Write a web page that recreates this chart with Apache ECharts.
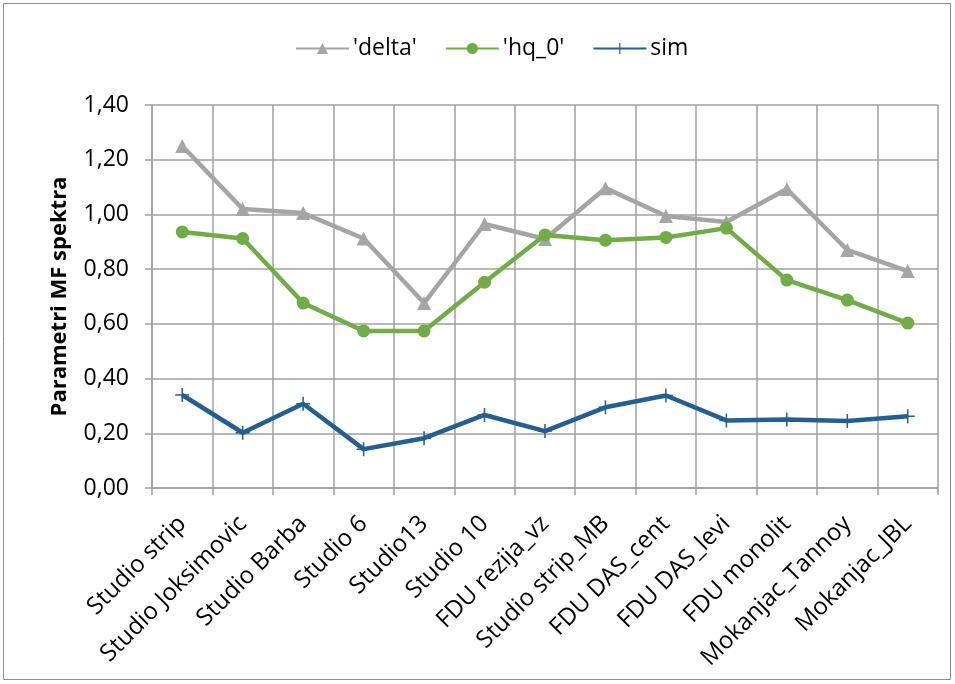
<!DOCTYPE html>
<html>
<head>
<meta charset="utf-8">
<script src="https://cdn.jsdelivr.net/npm/echarts@6/dist/echarts.min.js"></script>
<style>
html,body{margin:0;padding:0;background:#fff;}
#chart{width:955px;height:684px;}
</style>
</head>
<body>
<div id="chart"></div>
<script>
const categories = ['Studio strip','Studio Joksimovic','Studio Barba','Studio 6','Studio13','Studio 10','FDU rezija_vz','Studio strip_MB','FDU DAS_cent','FDU DAS_levi','FDU monolit','Mokanjac_Tannoy','Mokanjac_JBL'];
const deltaValues = [1.25, 1.02, 1.005, 0.912, 0.676, 0.965, 0.910, 1.096, 0.994, 0.972, 1.093, 0.870, 0.793];
const hq0Values = [0.936, 0.912, 0.676, 0.574, 0.574, 0.752, 0.925, 0.906, 0.916, 0.950, 0.760, 0.687, 0.603];
const simValues = [0.340, 0.202, 0.308, 0.142, 0.182, 0.267, 0.208, 0.295, 0.338, 0.247, 0.250, 0.245, 0.262];
const seriesNames = ["'delta'", "'hq_0'", 'sim'];
const yTicks = { min: 0, max: 1.4, interval: 0.2 };

const FONT = '"Open Sans", Lato, sans-serif';
const plusPath = 'path://M6.25,0h1.5v6.25h6.25v1.5h-6.25v6.25h-1.5v-6.25h-6.25v-1.5h6.25z';

const chart = echarts.init(document.getElementById('chart'));
chart.setOption({
  backgroundColor: '#fff',
  animation: false,
  textStyle: { fontFamily: FONT },
  graphic: [{
    type: 'rect',
    shape: { x: 3.5, y: 3.5, width: 947, height: 676 },
    style: { fill: 'none', stroke: '#8c8c8c', lineWidth: 1 }
  }],
  legend: {
    top: 32,
    left: 290,
    itemWidth: 53,
    itemHeight: 14,
    itemGap: 28,
    textStyle: { fontSize: 23, color: '#000', fontFamily: FONT, padding: [0, 0, 0, -1] },
    data: seriesNames
  },
  grid: { left: 152, right: 17, top: 105, bottom: 196, containLabel: false },
  xAxis: {
    type: 'category',
    data: categories,
    boundaryGap: true,
    axisLine: { show: true, lineStyle: { color: '#a0a0a0', width: 1.5 } },
    axisTick: { show: true, length: 7, inside: false, alignWithLabel: false, lineStyle: { color: '#a0a0a0', width: 1.5 } },
    splitLine: { show: true, lineStyle: { color: '#a0a0a0', width: 1.5 } },
    axisLabel: { rotate: 45, margin: 32, fontSize: 24, color: '#000', fontFamily: FONT, interval: 0 }
  },
  yAxis: {
    type: 'value',
    min: yTicks.min,
    max: yTicks.max,
    interval: yTicks.interval,
    name: 'Parametri MF spektra',
    nameLocation: 'middle',
    nameRotate: 90,
    nameGap: 81,
    nameTextStyle: { fontSize: 22, fontWeight: 'bold', color: '#000', fontFamily: FONT },
    axisLine: { show: true, lineStyle: { color: '#a0a0a0', width: 1.5 } },
    axisTick: { show: true, length: 7, inside: false, lineStyle: { color: '#a0a0a0', width: 1.5 } },
    splitLine: { show: true, lineStyle: { color: '#a0a0a0', width: 1.5 } },
    axisLabel: {
      fontSize: 23, color: '#000', margin: 23, fontFamily: FONT,
      formatter: v => v.toFixed(2).replace('.', ',')
    }
  },
  series: [
    {
      name: seriesNames[0], type: 'line', data: deltaValues,
      symbol: 'triangle', symbolSize: 14, showAllSymbol: true,
      lineStyle: { color: '#a5a5a5', width: 4.5 },
      itemStyle: { color: '#a5a5a5' }
    },
    {
      name: seriesNames[1], type: 'line', data: hq0Values,
      symbol: 'circle', symbolSize: 13, showAllSymbol: true,
      lineStyle: { color: '#70ad47', width: 4.5 },
      itemStyle: { color: '#70ad47' }
    },
    {
      name: seriesNames[2], type: 'line', data: simValues,
      symbol: plusPath, symbolSize: 14, showAllSymbol: true,
      lineStyle: { color: '#255e91', width: 4.5 },
      itemStyle: { color: '#255e91' }
    }
  ]
});
</script>
</body>
</html>
